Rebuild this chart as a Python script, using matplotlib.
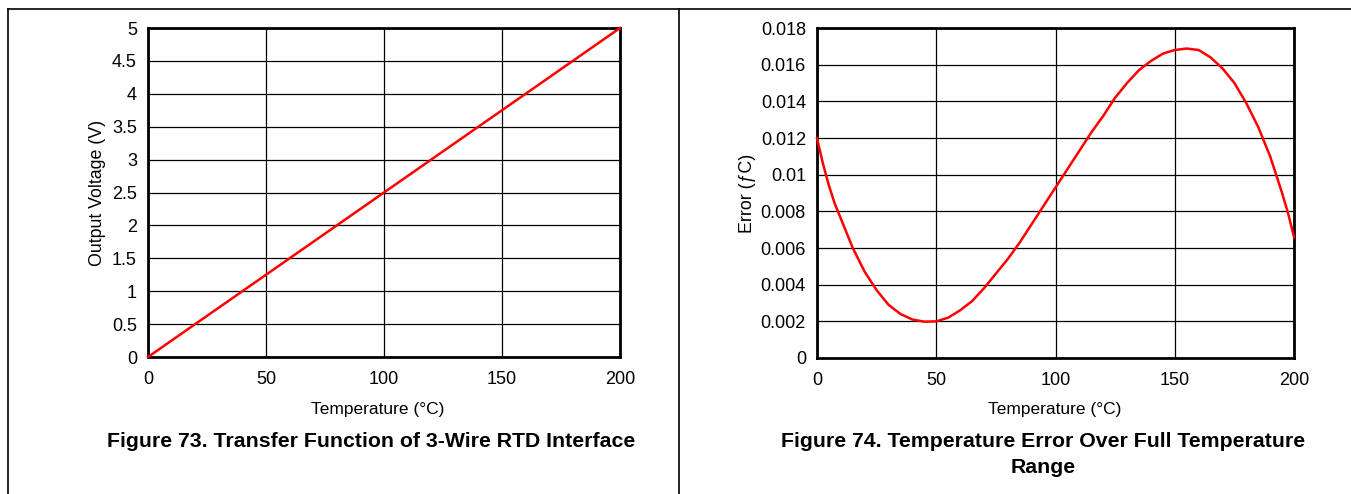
import matplotlib
matplotlib.use("Agg")
import matplotlib.pyplot as plt
from matplotlib.lines import Line2D

plt.rcParams['font.family'] = ['Liberation Sans', 'DejaVu Sans']

# figure 73 data
temp_73 = [0, 50, 100, 150, 200]
volt_73 = [0, 1.25, 2.5, 3.75, 5.0]

# figure 74 data
temp_74 = [0, 2.5, 5, 7.5, 10, 15, 20, 25, 30, 35, 40, 45, 50, 55, 60, 65, 70,
           75, 80, 85, 90, 95, 100, 105, 110, 115, 120, 125, 130, 135, 140,
           145, 150, 155, 160, 165, 170, 175, 180, 185, 190, 192.5, 195,
           197.5, 200]
err_74 = [0.0120, 0.0106, 0.0094, 0.0084, 0.0076, 0.0060, 0.0047, 0.0037,
          0.0029, 0.0024, 0.0021, 0.00198, 0.0020, 0.0022, 0.0026, 0.0031,
          0.0038, 0.0046, 0.0054, 0.0063, 0.0073, 0.0083, 0.0093, 0.0103,
          0.0113, 0.0123, 0.0132, 0.0142, 0.0150, 0.0157, 0.0162, 0.0166,
          0.0168, 0.01688, 0.0168, 0.0164, 0.0158, 0.0150, 0.0139, 0.0126,
          0.0110, 0.0100, 0.0090, 0.0079, 0.0066]

x_ticks = [0, 50, 100, 150, 200]
y_ticks_73 = [0, 0.5, 1, 1.5, 2, 2.5, 3, 3.5, 4, 4.5, 5]
y_labels_73 = ['0', '0.5', '1', '1.5', '2', '2.5', '3', '3.5', '4', '4.5', '5']
y_ticks_74 = [0, 0.002, 0.004, 0.006, 0.008, 0.01, 0.012, 0.014, 0.016, 0.018]
y_labels_74 = ['0', '0.002', '0.004', '0.006', '0.008', '0.01', '0.012',
               '0.014', '0.016', '0.018']

W, H = 1351, 494
fig = plt.figure(figsize=(W / 100, H / 100), dpi=100)


def px_axes(x0, y0, x1, y1):
    return fig.add_axes([x0 / W, 1 - y1 / H, (x1 - x0) / W, (y1 - y0) / H])


def style(ax, yt, yl, ymax):
    ax.set_xlim(0, 200)
    ax.set_ylim(0, ymax)
    ax.set_xticks(x_ticks)
    ax.set_xticklabels([str(t) for t in x_ticks])
    ax.set_yticks(yt)
    ax.set_yticklabels(yl)
    ax.tick_params(length=0, labelsize=13, pad=8)
    ax.tick_params(axis='x', pad=10)
    ax.grid(True, color='black', lw=0.9)
    ax.set_axisbelow(True)
    for s in ax.spines.values():
        s.set_linewidth(2.0)
        s.set_color('black')


ax1 = px_axes(148, 28, 620, 357)
ax1.plot(temp_73, volt_73, color='#ff0000', lw=1.8, zorder=3, clip_on=False)
style(ax1, y_ticks_73, y_labels_73, 5)
ax1.set_ylabel('Output Voltage (V)', fontsize=12.8, labelpad=4.5)

ax2 = px_axes(817, 28, 1294, 358)
ax2.plot(temp_74, err_74, color='#ff0000', lw=1.8, zorder=3, clip_on=False)
style(ax2, y_ticks_74, y_labels_74, 0.018)
ax2.set_ylabel('Error (ƒC)', fontsize=12.8, labelpad=3.5)

# x labels and captions
fig.text(378 / W, 1 - 409 / H, 'Temperature (°C)', fontsize=12.5,
         ha='center', va='center')
fig.text(1055 / W, 1 - 409 / H, 'Temperature (°C)', fontsize=12.5,
         ha='center', va='center')
fig.text(371 / W, 1 - 441 / H, 'Figure 73. Transfer Function of 3-Wire RTD Interface',
         fontsize=15.3, fontweight='bold', ha='center', va='center')
fig.text(1043 / W, 1 - 441 / H, 'Figure 74. Temperature Error Over Full Temperature',
         fontsize=15.3, fontweight='bold', ha='center', va='center')
fig.text(1043 / W, 1 - 467 / H, 'Range',
         fontsize=15.3, fontweight='bold', ha='center', va='center')

# page frame lines
fig.add_artist(Line2D([8 / W, 1], [1 - 9 / H, 1 - 9 / H], color='black', lw=1.2))
fig.add_artist(Line2D([8 / W, 8 / W], [0, 1 - 9 / H], color='black', lw=1.2))
fig.add_artist(Line2D([679 / W, 679 / W], [0, 1 - 9 / H], color='black', lw=1.2))

fig.savefig('out.png', dpi=100)
